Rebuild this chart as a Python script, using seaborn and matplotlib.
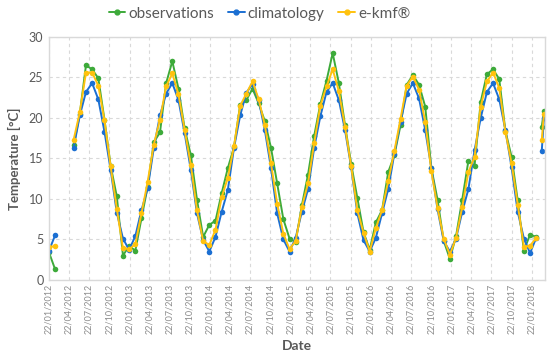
import numpy as np
import pandas as pd
import matplotlib
matplotlib.use("Agg")
import matplotlib.pyplot as plt
import matplotlib.dates as mdates
import seaborn as sns

# 28-day sampling starting 22/01/2012, NaN = missing sample / break in the line
start = "2012-01-22"
n_regular = 80
extra_dates = ["2018-02-25", "2018-03-08", "2018-03-18"]  # first one is a break

observations = [
    3.4, 1.3, np.nan, np.nan, 16.6, 20.5, 26.5, 26.0, 24.9, 19.8,
    14.1, 10.3, 3.0, 4.2, 3.6, 7.6, 11.5, 17.0, 18.2, 24.3,
    27.0, 23.6, 18.7, 15.4, 9.9, 5.3, 6.8, 7.3, 10.7, 13.8,
    16.4, 21.6, 22.2, 23.6, 21.8, 19.6, 16.3, 11.9, 7.5, 5.1,
    4.7, 9.2, 13.0, 17.8, 21.7, 24.6, 28.0, 24.3, 19.1, 14.3,
    10.1, 5.9, 3.7, 7.1, 8.6, 13.3, 15.4, 19.1, 24.1, 25.3,
    24.1, 21.4, 13.8, 9.9, 4.8, 2.6, 5.4, 9.9, 14.7, 14.1,
    22.0, 25.4, 26.0, 24.8, 18.4, 15.2, 9.8, 3.6, 5.6, 5.3,
    np.nan, 18.9, 20.9,
]
climatology = [
    3.6, 5.5, np.nan, np.nan, 16.3, 20.3, 23.2, 24.3, 22.3, 18.3,
    13.6, 8.3, 5.1, 3.7, 5.4, 8.6, 11.3, 16.3, 20.3, 23.0,
    24.3, 22.2, 18.1, 13.6, 8.2, 4.9, 3.5, 5.3, 8.4, 11.1,
    16.3, 20.3, 23.1, 24.2, 22.2, 18.5, 13.8, 8.2, 5.0, 3.5,
    5.2, 8.4, 11.2, 16.3, 20.2, 23.2, 24.3, 22.2, 18.5, 13.9,
    8.2, 4.9, 3.5, 5.2, 8.2, 11.2, 15.6, 19.5, 23.0, 24.3,
    22.4, 18.5, 13.8, 8.7, 4.8, 3.5, 5.1, 8.4, 11.2, 16.0,
    20.0, 23.2, 24.3, 22.3, 18.5, 13.9, 8.4, 5.1, 3.3, 5.2,
    np.nan, 15.9, 20.0,
]
ekmf = [
    4.0, 4.2, np.nan, np.nan, 17.3, 20.7, 25.6, 25.6, 24.0, 19.7,
    14.0, 8.8, 3.9, 3.8, 4.4, 8.2, 12.1, 16.7, 19.8, 23.9,
    25.5, 22.9, 18.5, 14.2, 8.6, 4.8, 4.3, 6.2, 10.2, 12.6,
    16.5, 21.5, 23.0, 24.5, 22.3, 19.1, 14.4, 9.4, 5.7, 3.8,
    4.8, 9.0, 11.9, 16.9, 21.5, 23.9, 26.0, 23.3, 18.9, 14.0,
    8.6, 5.8, 3.5, 6.4, 8.6, 12.2, 15.9, 19.9, 24.0, 25.1,
    23.5, 19.5, 13.4, 8.9, 5.1, 3.1, 5.2, 9.0, 13.3, 15.2,
    21.4, 24.5, 25.6, 23.7, 18.3, 14.4, 9.3, 4.1, 4.2, 5.2,
    np.nan, 17.3, 20.5,
]
series_names = ["observations", "climatology", "e-kmf®"]
colors = ["#3DAA3A", "#1B6FD2", "#FFC20E"]

# x ticks every 3 months on the 22nd
tick_dates = pd.to_datetime([f"{y}-{m:02d}-22" for y in range(2012, 2019)
                             for m in (1, 4, 7, 10)])[:25]

dates = list(pd.date_range(start, periods=n_regular, freq="28D")) + list(pd.to_datetime(extra_dates))

frames = []
for name, vals in zip(series_names, [observations, climatology, ekmf]):
    d = pd.DataFrame({"Date": dates, "value": vals, "series": name})
    d["segment"] = d["value"].isna().cumsum()
    frames.append(d.dropna())
df = pd.concat(frames, ignore_index=True)

sns.set_style("white")
plt.rcParams["font.family"] = ["Lato", "DejaVu Sans"]

fig = plt.figure(figsize=(5.5, 3.52), dpi=100)
ax = fig.add_axes([0.089, 0.205, 0.902, 0.69])

sns.lineplot(data=df, x="Date", y="value", hue="series", units="segment",
             estimator=None, palette=colors, hue_order=series_names,
             marker="o", markersize=4, markeredgewidth=0, linewidth=1.4,
             ax=ax, legend=False)

ax.set_xlim(pd.Timestamp(start), pd.Timestamp("2018-03-23"))
ax.set_ylim(0, 30)
ax.set_yticks(range(0, 31, 5))
ax.set_xticks(tick_dates)
ax.xaxis.set_major_formatter(mdates.DateFormatter("%d/%m/%Y"))
ax.tick_params(axis="x", labelrotation=90, labelsize=6.5, colors="#8C8C8C", length=0, pad=3)
ax.tick_params(axis="y", labelsize=9, colors="#595959", length=0, pad=4)
ax.grid(True, linestyle=(0, (3, 3)), color="#D9D9D9", linewidth=0.8)
for s in ax.spines.values():
    s.set_color("#D9D9D9")
    s.set_linewidth(1.0)

ax.set_xlabel("Date", fontsize=10, fontweight="bold", color="#595959", labelpad=4)
ax.set_ylabel("Temperature [°C]", fontsize=9.5, fontweight="bold", color="#595959", labelpad=6)

handles = [plt.Line2D([], [], color=c, marker="o", markersize=3.5, linewidth=1.4)
           for c in colors]
fig.legend(handles, series_names, loc="upper center", bbox_to_anchor=(0.472, 1.02),
           ncol=3, frameon=False, fontsize=11, handlelength=1.1, handletextpad=0.2,
           columnspacing=0.9, labelcolor="#595959")

fig.savefig("out.png", dpi=100)
